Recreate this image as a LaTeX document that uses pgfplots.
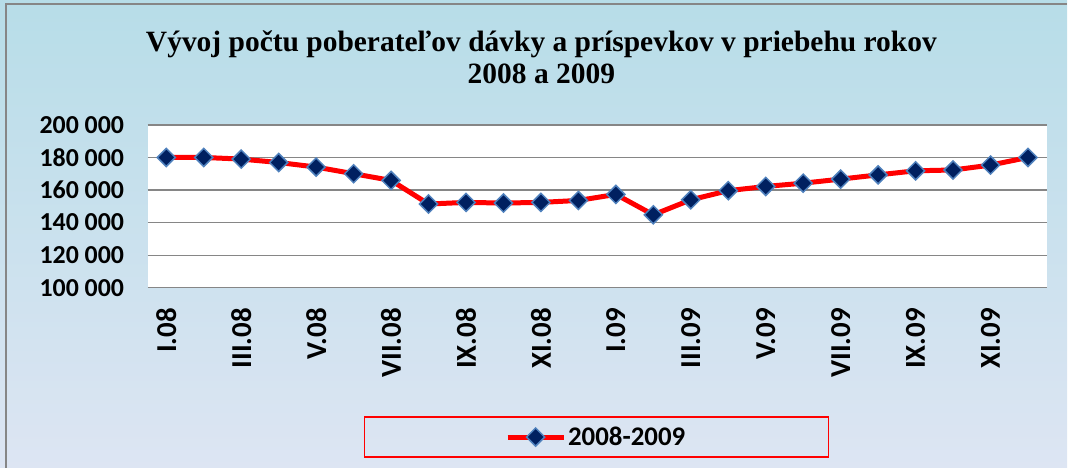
\documentclass[border=0pt]{standalone}
\usepackage{fontspec}
\setmainfont{Liberation Serif}
\newfontfamily\calibri{Carlito}
\usepackage{pgfplots}
\pgfplotsset{compat=1.18}
\definecolor{bgtop}{RGB}{183,221,232}
\definecolor{bgmid}{RGB}{199,215,237}
\definecolor{bgbot}{RGB}{221,229,243}
\definecolor{markfill}{RGB}{0,32,96}
\definecolor{markedge}{RGB}{79,129,189}
\definecolor{gridgray}{RGB}{134,134,134}
\begin{document}
\begin{tikzpicture}
\shade[top color=bgtop, middle color=bgmid, bottom color=bgbot] (0bp,0bp) rectangle (1068bp,468bp);
\draw[gridgray, line width=2bp] (6bp,0bp) -- (6bp,464bp) -- (1068bp,464bp);
\useasboundingbox (0bp,0bp) rectangle (1068bp,468bp);
\begin{axis}[
  at={(147.7bp,180bp)}, anchor=south west,
  scale only axis, width=900bp, height=163bp,
  xmin=-0.5, xmax=23.5, ymin=100000, ymax=200000,
  scaled y ticks=false,
  axis background/.style={fill=white},
  axis line style={draw=none},
  major tick length=0pt,
  ymajorgrids, major grid style={gridgray, line width=1.3bp},
  ytick={100000,120000,140000,160000,180000,200000},
  yticklabels={100 000,120 000,140 000,160 000,180 000,200 000},
  yticklabel style={font=\calibri\bfseries\fontsize{26}{26}\selectfont, xshift=-20bp},
  xtick={0,2,...,22},
  xticklabels={I.08,III.08,V.08,VII.08,IX.08,XI.08,I.09,III.09,V.09,VII.09,IX.09,XI.09},
  xticklabel style={font=\calibri\bfseries\fontsize{29}{29}\selectfont, yshift=-17bp, rotate=90, anchor=east},
  title={Vývoj počtu poberateľov dávky a príspevkov v priebehu rokov\\2008 a 2009},
  title style={at={(0.438,1.38)}, anchor=center, align=center, font=\bfseries\fontsize{29.6}{32}\selectfont},
  legend style={at={(0.499,-0.917)}, anchor=center, draw=red, line width=1.2bp, fill=none,
    inner xsep=141bp, inner ysep=8bp, font=\calibri\bfseries\fontsize{27}{27}\selectfont},
  legend image code/.code={\draw[mark repeat=2,mark phase=2] plot coordinates {(0bp,0bp) (28bp,0bp) (56bp,0bp)};},
]
\addplot[red, line width=5bp, mark=square*, mark size=6.4bp,
  mark options={rotate=45, fill=markfill, draw=markedge, line width=1.5bp}]
  coordinates {
  (0,180000) (1,180000) (2,179000) (3,176900) (4,174100) (5,170000)
  (6,165900) (7,151400) (8,152400) (9,152000) (10,152400) (11,153600)
  (12,157300) (13,144800) (14,154000) (15,159600) (16,162200) (17,164200)
  (18,166700) (19,169300) (20,171800) (21,172300) (22,175300) (23,180000)
  };
\addlegendentry{2008-2009}
\end{axis}
\end{tikzpicture}
\end{document}
